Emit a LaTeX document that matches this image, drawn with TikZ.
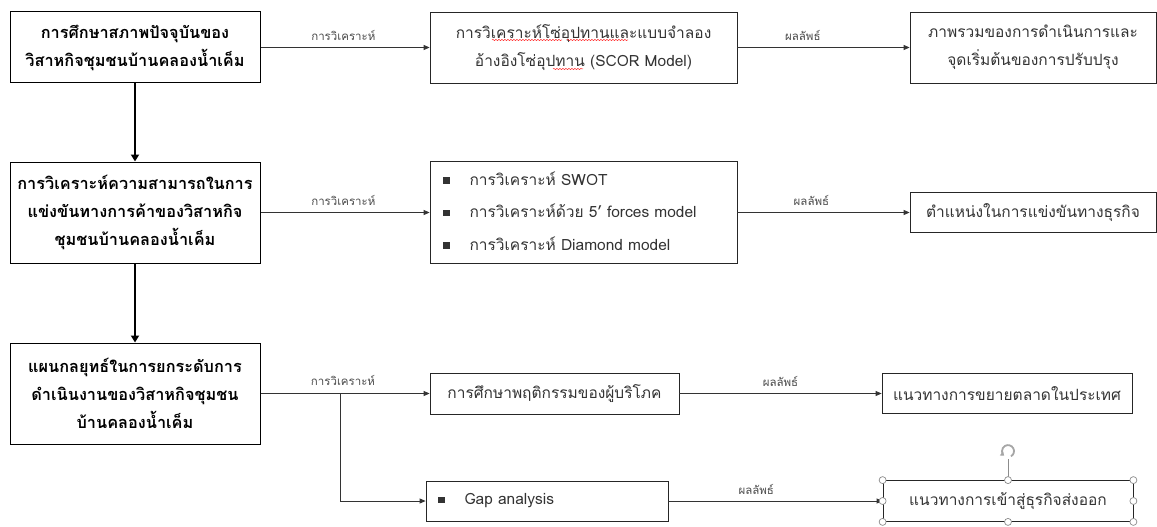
\documentclass[tikz,border=0pt]{standalone}
\usepackage{fontspec}
\setmainfont[Script=Thai]{Loma}
\usetikzlibrary{arrows.meta,decorations.pathmorphing}

\begin{document}
\begin{tikzpicture}[x=1pt,y=-1pt,
  box/.style={draw=black!85, line width=0.8pt, inner sep=0pt, align=center,
              text=black!80, font=\fontsize{15.5}{28}\selectfont},
  headbox/.style={box, draw=black, line width=1pt, text=black,
                  font=\bfseries\fontsize{16.3}{28}\selectfont},
  listbox/.style={box, align=left, font=\fontsize{15.5}{32.5}\selectfont},
  link/.style={draw=black!80, line width=0.8pt, -{Triangle[length=6pt,width=5pt]}},
  mainarrow/.style={draw=black, line width=2.6pt, -{Triangle[length=7pt,width=8pt]}},
  tag/.style={font=\fontsize{11.5}{12}\selectfont, text=black!70},
  handle/.style={circle, draw=black!45, fill=white, line width=0.7pt,
                 minimum size=7pt, inner sep=0pt},
  spell/.style={draw=red!85, line width=0.5pt, decorate,
                decoration={snake, amplitude=0.6pt, segment length=3pt}}]
\newcommand{\bul}{\rule[1.5pt]{6.5pt}{6.5pt}}
\useasboundingbox (0,0) rectangle (1157,527);

% left column: the three stages
\node[headbox, minimum width=250pt, minimum height=71pt] (s1) at (135,47.5)
  {การศึกษาสภาพปัจจุบันของ\\วิสาหกิจชุมชนบ้านคลองน้ำเค็ม};
\node[headbox, minimum width=250pt, minimum height=101pt] (s2) at (135,212.5)
  {การวิเคราะห์ความสามารถในการ\\แข่งขันทางการค้าของวิสาหกิจ\\ชุมชนบ้านคลองน้ำเค็ม};
\node[headbox, minimum width=250pt, minimum height=101pt] (s3) at (135,393.5)
  {แผนกลยุทธ์ในการยกระดับการ\\ดำเนินงานของวิสาหกิจชุมชน\\บ้านคลองน้ำเค็ม};

% middle column: methods
\node[box, minimum width=307pt, minimum height=71pt] (m1) at (583.5,47.5)
  {การวิเคราะห์โซ่อุปทานและแบบจำลอง\\อ้างอิงโซ่อุปทาน (SCOR Model)};
\node[listbox, minimum width=307pt, minimum height=102pt, text width=281pt,
      inner xsep=13pt] (m2) at (583.5,212.5)
  {\raisebox{3pt}{\bul\hspace{20pt}การวิเคราะห์ SWOT}\\
   \raisebox{3pt}{\bul\hspace{20pt}การวิเคราะห์ด้วย 5’ forces model}\\
   \raisebox{3pt}{\bul\hspace{20pt}การวิเคราะห์ Diamond model}};
\node[box, minimum width=249pt, minimum height=41pt] (m3) at (554.5,393.5)
  {การศึกษาพฤติกรรมของผู้บริโภค};
\node[box, align=left, minimum width=242pt, minimum height=40pt, text width=218pt,
      inner xsep=12pt] (m4) at (547,501)
  {\bul\hspace{20pt}Gap analysis};

% right column: results
\node[box, minimum width=246pt, minimum height=71pt] (r1) at (1033,47.5)
  {ภาพรวมของการดำเนินการและ\\จุดเริ่มต้นของการปรับปรุง};
\node[box, minimum width=246pt, minimum height=40pt] (r2) at (1033,212.5)
  {ตำแหน่งในการแข่งขันทางธุรกิจ};
\node[box, minimum width=250pt, minimum height=40pt] (r3) at (1007,393.5)
  {แนวทางการขยายตลาดในประเทศ};
\node[box, minimum width=250pt, minimum height=41pt] (r4) at (1008,501)
  {แนวทางการเข้าสู่ธุรกิจส่งออก};

% stage flow
\draw[mainarrow] (s1.south) -- (s2.north);
\draw[mainarrow] (s2.south) -- (s3.north);

% analysis links
\draw[link] (s1.east) -- node[tag, above=3pt, pos=0.49] {การวิเคราะห์} (m1.west);
\draw[link] (s2.east) -- node[tag, above=3pt, pos=0.49] {การวิเคราะห์} (m2.west);
\coordinate (fork) at (340,393.5);
\draw[link] (s3.east) -- (m3.west);
\node[tag] (t3) at (343,380) {การวิเคราะห์};
\draw[link] (fork) |- (m4.west);

% result links
\draw[link] (m1.east) -- node[tag, above=3pt, pos=0.38] {ผลลัพธ์} (r1.west);
\draw[link] (m2.east) -- node[tag, above=3pt, pos=0.43] {ผลลัพธ์} (r2.west);
\draw[link] (m3.east) -- node[tag, above=3pt, pos=0.50] {ผลลัพธ์} (r3.west);
\draw[link] (m4.east) -- node[tag, above=3pt, pos=0.41] {ผลลัพธ์} (r4.west);

% spelling marks under the supply-chain text
\draw[spell] (492,40) -- (562,40);
\draw[spell] (567,40) -- (628,40);
\draw[spell] (553,69) -- (583,69);

% selection frame on the last result box
\coordinate (rot) at ([yshift=29pt]r4.north);
\draw[black!45, line width=1pt] (r4.north) -- ([yshift=21pt]r4.north);
\draw[black!35, line width=1.8pt, -{Triangle[length=3.5pt,width=5pt]}]
  ([shift={(-60:6pt)}]rot) arc[start angle=-60, end angle=230, radius=6pt];
\foreach \a in {north west,north,north east,west,east,south west,south,south east}
  \node[handle] at (r4.\a) {};
\end{tikzpicture}
\end{document}
